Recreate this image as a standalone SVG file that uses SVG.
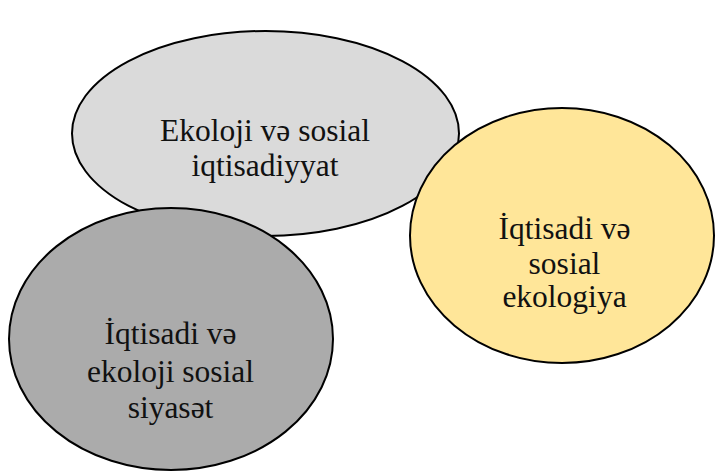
<svg xmlns="http://www.w3.org/2000/svg" width="715" height="472" viewBox="0 0 715 472">
<style>
  .node { stroke: #000; stroke-width: 2; }
  .label { font-family: "Liberation Serif", "Times New Roman", serif; font-size: 31.5px; fill: #111; text-anchor: middle; }
</style>
<rect width="715" height="472" fill="#fff"/>
<g id="connectors"></g>
<g id="node-top">
  <ellipse class="node" cx="265.5" cy="133.5" rx="193.5" ry="102.5" fill="#dadada"/>
  <text class="label" x="265" y="141">Ekoloji və sosial</text>
  <text class="label" x="265" y="176">iqtisadiyyat</text>
</g>
<g id="node-right">
  <ellipse class="node" cx="562" cy="235.5" rx="152" ry="127.5" fill="#ffe699"/>
  <text class="label" x="564.5" y="239">İqtisadi və</text>
  <text class="label" x="564.5" y="274">sosial</text>
  <text class="label" x="564.5" y="307">ekologiya</text>
</g>
<g id="node-bottom">
  <ellipse class="node" cx="171" cy="339" rx="162" ry="131" fill="#ababab"/>
  <text class="label" x="170.5" y="344">İqtisadi və</text>
  <text class="label" x="170.5" y="382">ekoloji sosial</text>
  <text class="label" x="170.5" y="418">siyasət</text>
</g>
</svg>
